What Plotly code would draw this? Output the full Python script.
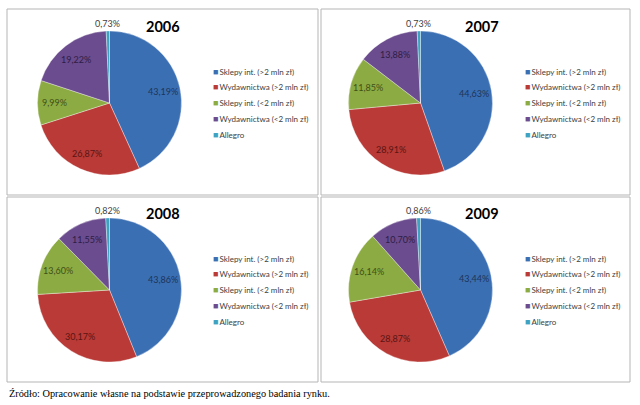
import math
import plotly.graph_objects as go

categories = ["Sklepy int. (>2 mln zł)", "Wydawnictwa (>2 mln zł)", "Sklepy int. (<2 mln zł)",
              "Wydawnictwa (<2 mln zł)", "Allegro"]
years = ["2006", "2007", "2008", "2009"]
values_2006 = [43.19, 26.87, 9.99, 19.22, 0.73]
values_2007 = [44.63, 28.91, 11.85, 13.88, 0.73]
values_2008 = [43.86, 30.17, 13.60, 11.55, 0.82]
values_2009 = [43.44, 28.87, 16.14, 10.70, 0.86]
all_values = [values_2006, values_2007, values_2008, values_2009]
caption = "Źródło: Opracowanie własne na podstawie przeprowadzonego badania rynku."

colors = ["#3b6fb3", "#b93a36", "#8cab43", "#6b4c8e", "#3ea3c2"]
text_colors = ["#1c3559", "#5a1513", "#3f5016", "#2e1d45", "#404040"]

W, H = 640, 405
fig = go.Figure()

panels = [
    dict(box=(7, 9, 318, 195), cx=109.5, cy=103, title_x=163, title_y=26, leg_x=211, leg_y=71),
    dict(box=(321, 9, 630, 195), cx=420.5, cy=103, title_x=482, title_y=26, leg_x=523, leg_y=71),
    dict(box=(7, 197, 318, 382), cx=109.5, cy=290, title_x=163, title_y=213, leg_x=211, leg_y=258),
    dict(box=(321, 197, 630, 382), cx=420.5, cy=290, title_x=482, title_y=213, leg_x=523, leg_y=258),
]
R = 72


def px(x):
    return x / W


def py(y):
    return 1 - y / H


shapes = []
annotations = []
for p, yr, vals in zip(panels, years, all_values):
    x0, y0, x1, y1 = p["box"]
    shapes.append(dict(type="rect", xref="paper", yref="paper",
                       x0=px(x0), x1=px(x1), y0=py(y1), y1=py(y0),
                       line=dict(color="#b5b5b5", width=1), fillcolor="white", layer="below"))
    texts = [f"{v:.2f}".replace(".", ",") + "%" for v in vals]
    fig.add_trace(go.Pie(
        labels=categories, values=vals, text=texts, textinfo="none",
        sort=False, direction="clockwise", rotation=0,
        marker=dict(colors=colors, line=dict(color="rgba(255,255,255,0.6)", width=0.6)),
        domain=dict(x=[px(p["cx"] - R), px(p["cx"] + R)], y=[py(p["cy"] + R), py(p["cy"] - R)]),
        showlegend=False, hoverinfo="label+text",
    ))
    # data labels placed at each slice's mid-angle (Excel "best fit" look)
    total = sum(vals)
    cum = 0.0
    for i, (v, t) in enumerate(zip(vals, texts)):
        mid = (cum + v / 2) / total * 2 * math.pi
        cum += v
        rr = R * (1.1 if i == len(vals) - 1 else 0.76)
        lx = p["cx"] + rr * math.sin(mid)
        ly = p["cy"] - rr * math.cos(mid)
        annotations.append(dict(text=t, x=px(lx), y=py(ly), xref="paper", yref="paper",
                                showarrow=False, xanchor="center", yanchor="middle",
                                font=dict(family="Lato, sans-serif", size=9, color=text_colors[i])))
    annotations.append(dict(text=f"<b>{yr}</b>", x=px(p["title_x"]), y=py(p["title_y"]),
                            xref="paper", yref="paper", showarrow=False,
                            font=dict(family="Lato, sans-serif", size=14.5, color="black"),
                            xanchor="center", yanchor="middle"))
    for i, (cat, col) in enumerate(zip(categories, colors)):
        annotations.append(dict(
            text=f"<span style='color:{col};font-size:9px'>■</span>\u2009{cat}",
            x=px(p["leg_x"]), y=py(p["leg_y"] + i * 15.8),
            xref="paper", yref="paper", showarrow=False,
            font=dict(family="Lato, sans-serif", size=8, color="#404040"),
            xanchor="left", yanchor="middle"))

annotations.append(dict(text=caption, x=px(7), y=py(393), xref="paper", yref="paper",
                        showarrow=False, xanchor="left", yanchor="middle",
                        font=dict(family="Liberation Serif, serif", size=10.3, color="black")))

fig.update_layout(width=W, height=H, margin=dict(l=0, r=0, t=0, b=0),
                  paper_bgcolor="white", plot_bgcolor="white",
                  shapes=shapes, annotations=annotations)
fig.write_html("out.html", config={"displayModeBar": False},
               post_script="document.body.style.margin='0';")
